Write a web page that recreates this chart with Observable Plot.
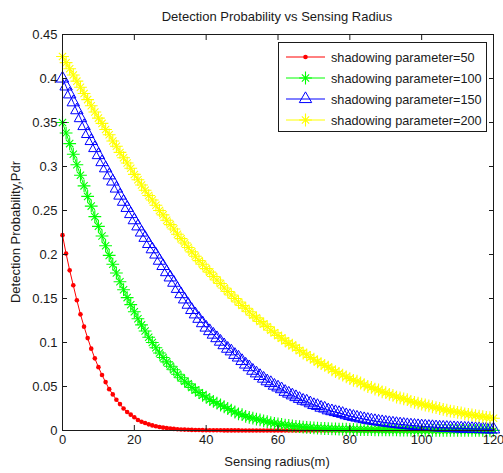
<!DOCTYPE html>
<html><head><meta charset="utf-8">
<script src="https://cdn.jsdelivr.net/npm/d3@7"></script>
<script src="https://cdn.jsdelivr.net/npm/@observablehq/plot@0.6"></script>
<style>body{margin:0;background:#fff} svg{display:block}</style>
</head><body><div id="chart"></div>
<script>
const titleText = "Detection Probability vs Sensing Radius";
const xLabel = "Sensing radius(m)";
const yLabel = "Detection Probability,Pdr";
const xTicks = [0, 20, 40, 60, 80, 100, 120];
const yTicks = [0, 0.05, 0.1, 0.15, 0.2, 0.25, 0.3, 0.35, 0.4, 0.45];
const yTickLabels = ["0", "0.05", "0.1", "0.15", "0.2", "0.25", "0.3", "0.35", "0.4", "0.45"];
const seriesNames = ["shadowing parameter=50", "shadowing parameter=100", "shadowing parameter=150", "shadowing parameter=200"];
const seriesColors = ["#ff0000", "#00ff00", "#0000ff", "#ffff00"];

const radius = [0,1,2,3,4,5,6,7,8,9,10,11,12,13,14,15,16,17,18,19,20,21,22,23,24,25,26,27,28,29,30,31,32,33,34,35,36,37,38,39,40,41,42,43,44,45,46,47,48,49,50,51,52,53,54,55,56,57,58,59,60,61,62,63,64,65,66,67,68,69,70,71,72,73,74,75,76,77,78,79,80,81,82,83,84,85,86,87,88,89,90,91,92,93,94,95,96,97,98,99,100,101,102,103,104,105,106,107,108,109,110,111,112,113,114,115,116,117,118,119,120];

const pd50 = [0.222,0.201,0.182,0.165,0.148,0.132,0.118,0.105,0.093,0.082,
0.072,0.063,0.055,0.047,0.041,0.035,0.030,0.025,0.021,0.018,
0.015,0.012,0.010,0.0085,0.007,0.0058,0.0048,0.004,0.0033,0.0027,
0.0022,0.0018,0.0015,0.0012,0.001,0.0008,0.0007,0.0006,0.0005,0.0004,
0.0003,0.0003,0.0002,0.0002,0.0002,0.0001,0.0001,0.0001,0.0001,0.0001,
0,0,0,0,0,0,0,0,0,0,
0,0,0,0,0,0,0,0,0,0,
0,0,0,0,0,0,0,0,0,0,
0,0,0,0,0,0,0,0,0,0,
0,0,0,0,0,0,0,0,0,0,
0,0,0,0,0,0,0,0,0,0,
0,0,0,0,0,0,0,0,0,0,0];

const pd100 = [0.350,0.338,0.326,0.314,0.302,0.290,0.278,0.266,0.255,0.243,
0.232,0.221,0.210,0.199,0.189,0.179,0.169,0.160,0.151,0.143,
0.135,0.127,0.120,0.113,0.106,0.100,0.094,0.088,0.083,0.078,
0.073,0.069,0.064,0.060,0.056,0.053,0.049,0.046,0.043,0.040,
0.038,0.035,0.033,0.031,0.029,0.027,0.025,0.023,0.021,0.019,
0.018,0.016,0.015,0.014,0.013,0.012,0.011,0.010,0.009,0.0082,
0.0075,0.0068,0.0062,0.0057,0.0052,0.0047,0.0043,0.0039,0.0036,0.0033,
0.0029,0.0027,0.0025,0.0023,0.0021,0.0019,0.0018,0.0016,0.0015,0.0014,
0.0013,0.0012,0.0011,0.001,0.001,0.0009,0.0009,0.0008,0.0008,0.0007,
0.0007,0.0006,0.0006,0.0006,0.0005,0.0005,0.0005,0.0004,0.0004,0.0004,
0.0004,0.0003,0.0003,0.0003,0.0003,0.0003,0.0002,0.0002,0.0002,0.0002,
0.0002,0.0002,0.0002,0.0001,0.0001,0.0001,0.0001,0.0001,0.0001,0.0001,0.0001];

const pd150 = [0.400,0.391,0.382,0.373,0.364,0.355,0.346,0.337,0.329,0.321,
0.313,0.305,0.298,0.290,0.283,0.275,0.267,0.260,0.253,0.246,
0.239,0.232,0.225,0.219,0.212,0.206,0.200,0.193,0.187,0.180,
0.174,0.168,0.161,0.155,0.149,0.143,0.137,0.132,0.127,0.122,
0.117,0.113,0.109,0.105,0.101,0.097,0.093,0.090,0.086,0.083,
0.079,0.075,0.072,0.068,0.065,0.062,0.059,0.056,0.054,0.051,
0.049,0.047,0.044,0.042,0.040,0.038,0.036,0.034,0.033,0.031,
0.029,0.028,0.026,0.025,0.023,0.022,0.021,0.020,0.019,0.0175,
0.0165,0.0156,0.0147,0.0138,0.013,0.0122,0.0115,0.0108,0.0102,0.0096,
0.009,0.0085,0.008,0.0075,0.007,0.0066,0.0062,0.0058,0.0055,0.0051,
0.0048,0.0045,0.0042,0.004,0.0037,0.0035,0.0033,0.0031,0.0029,0.0027,
0.0025,0.0024,0.0022,0.0021,0.0019,0.0018,0.0017,0.0016,0.0015,0.0014,0.0013];

const pd200 = [0.425,0.418,0.411,0.404,0.397,0.390,0.383,0.376,0.369,0.362,
0.355,0.349,0.342,0.336,0.329,0.323,0.316,0.310,0.304,0.298,
0.291,0.285,0.279,0.273,0.267,0.262,0.256,0.250,0.245,0.239,
0.234,0.229,0.223,0.218,0.213,0.208,0.203,0.198,0.193,0.189,
0.184,0.180,0.175,0.171,0.167,0.162,0.158,0.154,0.150,0.146,
0.142,0.139,0.135,0.131,0.128,0.124,0.121,0.118,0.114,0.111,
0.108,0.105,0.102,0.099,0.097,0.094,0.091,0.088,0.086,0.083,
0.081,0.078,0.076,0.074,0.072,0.069,0.067,0.065,0.063,0.061,
0.059,0.057,0.056,0.054,0.052,0.050,0.049,0.047,0.046,0.044,
0.043,0.041,0.040,0.038,0.037,0.036,0.035,0.033,0.032,0.031,
0.030,0.029,0.028,0.027,0.026,0.025,0.024,0.023,0.022,0.0215,
0.0207,0.020,0.019,0.0183,0.0176,0.017,0.0163,0.0157,0.015,0.0145,0.014];

const seriesValues = [pd50, pd100, pd150, pd200];
const table = seriesValues.map(vals => radius.map((r, i) => ({r, p: vals[i]})));

const W = 503, H = 473;
const font = "'Liberation Sans', Arial, sans-serif";
const ink = "#1a1a1a";

function asterisk(data, color) {
  return [
    Plot.dot(data, {x: "r", y: "p", symbol: "plus", r: 4.2, stroke: color, strokeWidth: 1.1}),
    Plot.dot(data, {x: "r", y: "p", symbol: "times", r: 3.4, stroke: color, strokeWidth: 1.1})
  ];
}

const chart = Plot.plot({
  width: W, height: H,
  marginLeft: 62, marginRight: 10, marginTop: 34, marginBottom: 43,
  style: {fontFamily: font, fontSize: "13px", color: ink, background: "white"},
  x: {domain: [0, 120]},
  y: {domain: [0, 0.45]},
  marks: [
    Plot.line(table[0], {x: "r", y: "p", stroke: seriesColors[0], strokeWidth: 1}),
    Plot.dot(table[0], {x: "r", y: "p", symbol: "circle", r: 2.3, fill: seriesColors[0]}),
    Plot.line(table[1], {x: "r", y: "p", stroke: seriesColors[1], strokeWidth: 1}),
    ...asterisk(table[1], seriesColors[1]),
    Plot.line(table[2], {x: "r", y: "p", stroke: seriesColors[2], strokeWidth: 1}),
    Plot.dot(table[2], {x: "r", y: "p", symbol: "triangle", r: 4.6, stroke: seriesColors[2], fill: "none", strokeWidth: 1}),
    Plot.line(table[3], {x: "r", y: "p", stroke: seriesColors[3], strokeWidth: 1}),
    ...asterisk(table[3], seriesColors[3]),
    Plot.frame({stroke: ink}),
    Plot.axisX({ticks: xTicks, tickSize: 5, dy: -5, tickFormat: () => "", label: null, stroke: ink}),
    Plot.axisX({anchor: "top", ticks: xTicks, tickSize: 5, dy: 5, tickFormat: () => "", label: null, stroke: ink}),
    Plot.axisY({ticks: yTicks, tickSize: 5, dx: 5, tickFormat: () => "", label: null, stroke: ink}),
    Plot.axisY({anchor: "right", ticks: yTicks, tickSize: 5, dx: -5, tickFormat: () => "", label: null, stroke: ink}),
    Plot.axisX({ticks: xTicks, tickSize: 0, tickPadding: 4, label: null, fill: ink}),
    Plot.axisY({ticks: yTicks, tickSize: 0, tickPadding: 5, label: null, fill: ink,
      tickFormat: d => yTickLabels[yTicks.indexOf(d)]})
  ]
});
document.getElementById("chart").appendChild(chart);

const svg = d3.select(chart);
function addText(sel) {
  return sel.style("font-family", font).style("font-size", "13px").attr("fill", ink);
}
addText(svg.append("text").attr("x", 277).attr("y", 21).attr("text-anchor", "middle").text(titleText));
addText(svg.append("text").attr("x", 277).attr("y", 466).attr("text-anchor", "middle").text(xLabel));
addText(svg.append("text").attr("transform", "translate(19.5,232) rotate(-90)").attr("text-anchor", "middle").text(yLabel));

// legend
const lg = svg.append("g");
lg.append("rect").attr("x", 278.5).attr("y", 42.5).attr("width", 208).attr("height", 89)
  .attr("fill", "white").attr("stroke", ink);
seriesNames.forEach((name, i) => {
  const cy = 57 + i * 21;
  const c = seriesColors[i];
  lg.append("line").attr("x1", 286).attr("x2", 325).attr("y1", cy).attr("y2", cy).attr("stroke", c);
  const mx = 305.5;
  if (i === 0) {
    lg.append("circle").attr("cx", mx).attr("cy", cy).attr("r", 2.3).attr("fill", c);
  } else if (i === 2) {
    lg.append("path").attr("d", d3.symbol(d3.symbolTriangle, Math.PI * 4.6 * 4.6)())
      .attr("transform", `translate(${mx},${cy})`).attr("fill", "none").attr("stroke", c);
  } else {
    lg.append("path").attr("d", d3.symbol(d3.symbolPlus, Math.PI * 4.2 * 4.2)())
      .attr("transform", `translate(${mx},${cy})`).attr("fill", "none").attr("stroke", c).attr("stroke-width", 1.1);
    lg.append("path").attr("d", d3.symbol(d3.symbolTimes, Math.PI * 3.4 * 3.4)())
      .attr("transform", `translate(${mx},${cy})`).attr("fill", "none").attr("stroke", c).attr("stroke-width", 1.1);
  }
  lg.append("text").attr("x", 331).attr("y", cy + 4.6).attr("text-anchor", "start")
    .style("font-family", font).style("font-size", "12.7px").attr("fill", ink).text(name);
});
</script>
</body></html>
